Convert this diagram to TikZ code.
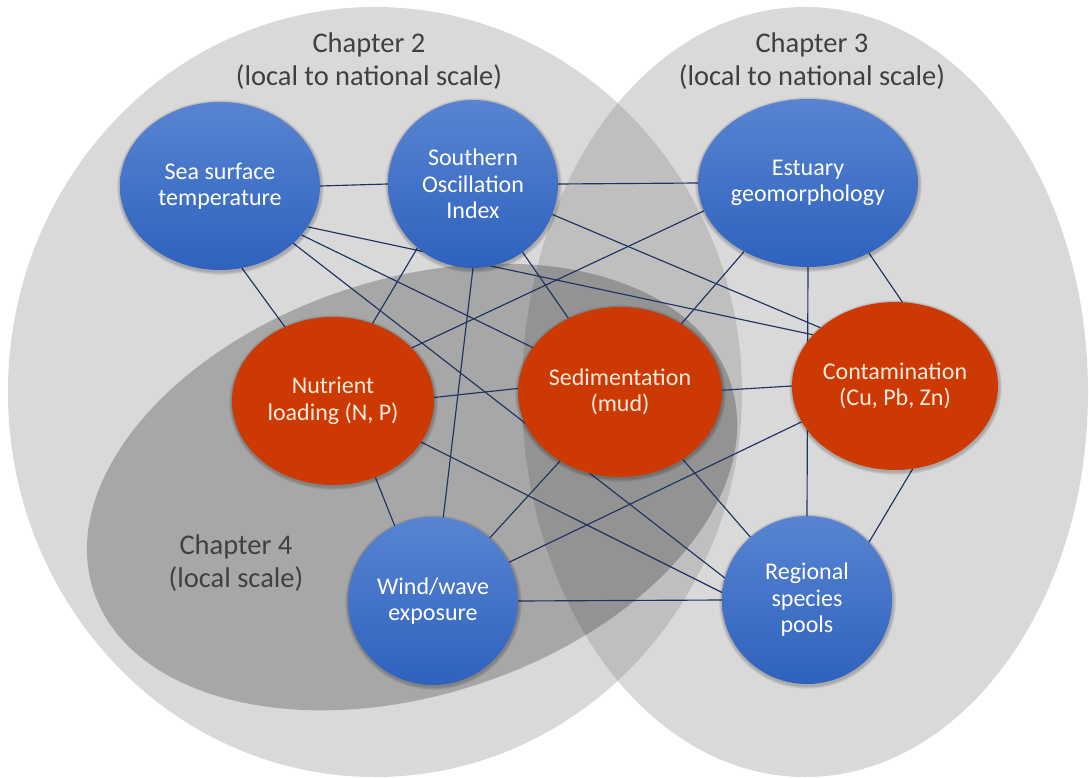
\documentclass[tikz,border=0pt]{standalone}
\usepackage{fontspec}
\setmainfont{Carlito}
\usetikzlibrary{shapes.geometric,calc}

\definecolor{linkblue}{RGB}{30,52,96}
\definecolor{nodeblueT}{RGB}{88,132,210}
\definecolor{nodeblueB}{RGB}{46,98,190}
\definecolor{nodered}{RGB}{205,57,3}
\definecolor{redtext}{RGB}{253,234,220}
\definecolor{labelgray}{RGB}{64,64,64}
\definecolor{zonelight}{RGB}{217,217,217}
\definecolor{zonemid}{RGB}{191,191,191}
\definecolor{zonedark}{RGB}{167,167,167}
\definecolor{zonedeep}{RGB}{147,147,147}

\pgfdeclarelayer{zones}
\pgfdeclarelayer{links}
\pgfdeclarelayer{shades}
\pgfsetlayers{zones,links,shades,main}

\begin{document}
\begin{tikzpicture}[x=1pt,y=-1pt,
  factor/.style={ellipse, inner sep=0pt, align=center,
    font=\fontsize{24}{26.5}\selectfont},
  driver/.style={factor, top color=nodeblueT, bottom color=nodeblueB, text=white},
  response/.style={factor, fill=nodered, text=redtext},
  link/.style={draw=linkblue, line width=1.15pt},
  chapter/.style={align=center, text=labelgray, font=\fontsize{28.5}{33}\selectfont},
  chtwo/.style={insert path={(375,392) ellipse [x radius=367pt, y radius=385pt]}},
  chthree/.style={insert path={(805,392) ellipse [x radius=283pt, y radius=385pt]}},
  chfour/.style={rotate around={18:(412,487)},
    insert path={(412,487) ellipse [x radius=335pt, y radius=208pt]}}
]

\useasboundingbox (0,0) rectangle (1089,778);

% chapter regions and their overlaps
\begin{pgfonlayer}{zones}
  \fill[white] (0,0) rectangle (1089,778);
  \fill[zonelight, chtwo];
  \fill[zonelight, chthree];
  \begin{scope}
    \clip[chtwo];
    \fill[zonemid, chthree];
  \end{scope}
  \fill[zonedark, chfour];
  \begin{scope}
    \clip[chfour];
    \clip[chtwo];
    \fill[zonedeep, chthree];
  \end{scope}
\end{pgfonlayer}

% chapter labels
\node[chapter] (ch2) at (369,61) {Chapter 2\\(local to national scale)};
\node[chapter] (ch3) at (812,61) {Chapter 3\\(local to national scale)};
\node[chapter] (ch4) at (236,563) {Chapter 4\\(local scale)};

% factors
\node[driver, minimum width=200pt, minimum height=168pt] (sst) at (220,186) {Sea surface\\temperature};
\node[driver, minimum width=170pt, minimum height=168pt] (soi) at (473,184) {Southern\\Oscillation\\Index};
\node[driver, minimum width=220pt, minimum height=168pt] (est) at (808,183) {Estuary\\geomorphology};
\node[response, minimum width=202pt, minimum height=168pt] (nut) at (333,401) {Nutrient\\loading (N, P)};
\node[response, minimum width=204pt, minimum height=170pt] (sed) at (620,392) {Sedimentation\\(mud)};
\node[response, minimum width=206pt, minimum height=168pt] (con) at (895,386) {Contamination\\(Cu, Pb, Zn)};
\node[driver, minimum width=170pt, minimum height=168pt] (win) at (433,601) {Wind/wave\\exposure};
\node[driver, minimum width=170pt, minimum height=168pt] (reg) at (807,600) {Regional\\species\\pools};

% soft shadows under the factors
\begin{pgfonlayer}{shades}
  \foreach \nd in {sst,soi,est,nut,sed,con,win,reg}{
    \foreach \k in {1,2,3,4}{
      \fill[black, fill opacity=0.06]
        let \p{c}=(\nd.center), \p{e}=(\nd.east), \p{t}=(\nd.north) in
        ([xshift=0.5pt,yshift=-1.5pt]\nd.center)
        ellipse [x radius={\x{e}-\x{c}+\k*0.8pt}, y radius={\y{t}-\y{c}+\k*0.8pt}];
    }
  }
\end{pgfonlayer}

% links between factors
\begin{pgfonlayer}{links}
  \draw[link] (sst.east) -- (soi.west);
  \draw[link] (soi.east) -- (est.west);
  \draw[link] (sst.-75) -- (nut.123);
  \draw[link] (sst.-31) -- (sed.153);
  \draw[link] (sst.-25) -- (con.148);
  \draw[link] (sst.-38) -- (reg.165);
  \draw[link] (soi.229) -- (nut.63);
  \draw[link] (soi.south) -- (win.83);
  \draw[link] (soi.-54) -- (sed.125);
  \draw[link] (soi.-21) -- (con.142);
  \draw[link] (est.195) -- (nut.34);
  \draw[link] (est.-133) -- (sed.48);
  \draw[link] (est.-49) -- (con.85);
  \draw[link] (est.south) -- (reg.north);
  \draw[link] (nut.2) -- (sed.178);
  \draw[link] (sed.1) -- (con.180);
  \draw[link] (nut.-61) -- (win.117);
  \draw[link] (nut.-25) -- (reg.175);
  \draw[link] (sed.229) -- (win.48);
  \draw[link] (sed.-47) -- (reg.132);
  \draw[link] (con.201) -- (win.27);
  \draw[link] (con.-78) -- (reg.43);
  \draw[link] (win.east) -- (reg.west);
\end{pgfonlayer}

\end{tikzpicture}
\end{document}
